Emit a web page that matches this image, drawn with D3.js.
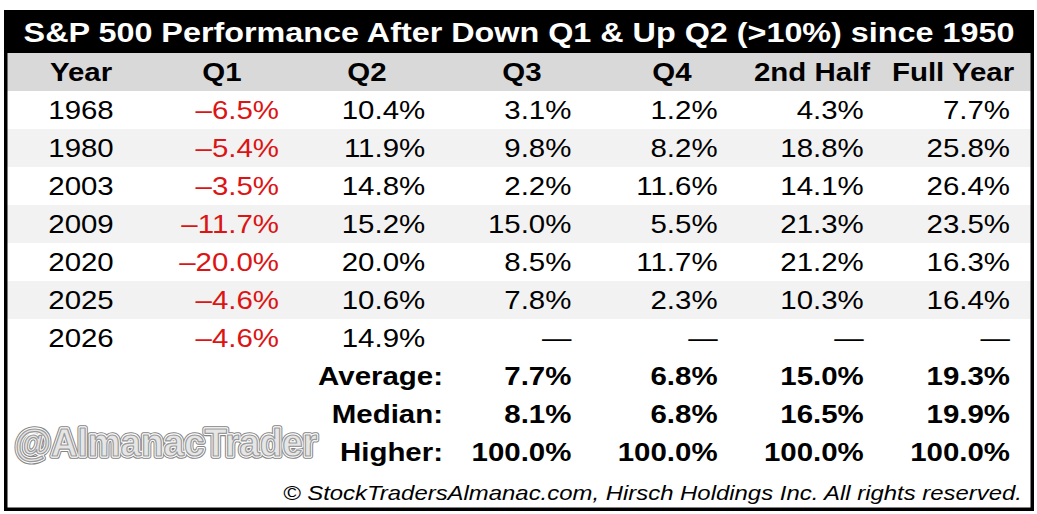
<!DOCTYPE html>
<html>
<head>
<meta charset="utf-8">
<script src="https://cdn.jsdelivr.net/npm/d3@7/dist/d3.min.js"></script>
<style>
  html, body { margin: 0; padding: 0; background: #ffffff; }
  svg { display: block; }
</style>
</head>
<body>
<svg id="chart" width="1037" height="514"></svg>
<script>
// ---------------- DATA ----------------
const title = "S&P 500 Performance After Down Q1 & Up Q2 (>10%) since 1950";
const headers = ["Year", "Q1", "Q2", "Q3", "Q4", "2nd Half", "Full Year"];
const years = ["1968", "1980", "2003", "2009", "2020", "2025", "2026"];
const q1 = [-6.5, -5.4, -3.5, -11.7, -20.0, -4.6, -4.6];
const q2 = [10.4, 11.9, 14.8, 15.2, 20.0, 10.6, 14.9];
const q3 = [3.1, 9.8, 2.2, 15.0, 8.5, 7.8, null];
const q4 = [1.2, 8.2, 11.6, 5.5, 11.7, 2.3, null];
const half2 = [4.3, 18.8, 14.1, 21.3, 21.2, 10.3, null];
const fullYear = [7.7, 25.8, 26.4, 23.5, 16.3, 16.4, null];
const summaryLabels = ["Average:", "Median:", "Higher:"];
const summaryCols = ["Q3", "Q4", "2nd Half", "Full Year"];
const average = [7.7, 6.8, 15.0, 19.3];
const median = [8.1, 6.8, 16.5, 19.9];
const higher = [100.0, 100.0, 100.0, 100.0];
const watermark = "@AlmanacTrader";
const footer = "\u00A9 StockTradersAlmanac.com, Hirsch Holdings Inc. All rights reserved.";

// ---------------- LAYOUT ----------------
const W = 1037, H = 514;
const box = { x0: 4, y0: 10, x1: 1034, y1: 511, stroke: 3.5 };
const titleBottom = 53;
const rowH = 38;
const sx = 1.155;               // horizontal stretch of the original picture
const fontMain = "'Liberation Sans', Arial, Helvetica, sans-serif";
const red = "#dc1414";

const svg = d3.select("#chart");

const valueCols = headers.slice(1);
const series = [q1, q2, q3, q4, half2, fullYear];

// rows: header, data years, summary rows
const rowKeys = ["__header__", ...years, ...summaryLabels];
const y = d3.scaleBand().domain(rowKeys).range([titleBottom, titleBottom + rowH * rowKeys.length]).padding(0);

// right edges of the value columns
const xRight = d3.scalePoint().domain(valueCols).range([279, 1010]);
// header centres
const headerX = d3.scaleOrdinal().domain(headers).range([81, 222, 367, 522, 672, 812, 953]);
const yearX = 81;
const labelRight = 443;

function fmt(v) {
  if (v === null || v === undefined) return "\u2014";
  const s = Math.abs(v).toFixed(1) + "%";
  return v < 0 ? "\u2013" + s : s;
}

function txt(parent, x, yb, str, opt) {
  const g = parent.append("g").attr("transform", `translate(${x},${yb}) scale(${opt.sx || sx},1)`);
  const t = g.append("text")
    .attr("x", 0).attr("y", 0)
    .attr("text-anchor", opt.anchor || "start")
    .attr("font-family", opt.family || fontMain)
    .attr("font-size", opt.size || 25.5)
    .attr("font-weight", opt.weight || "normal")
    .attr("font-style", opt.style || "normal")
    .attr("fill", opt.fill || "#000")
    .text(str);
  return t;
}

// background
svg.append("rect").attr("x", 0).attr("y", 0).attr("width", W).attr("height", H).attr("fill", "#fff");

// title band
svg.append("rect").attr("x", box.x0).attr("y", box.y0).attr("width", box.x1 - box.x0).attr("height", titleBottom - box.y0).attr("fill", "#000");

// header band
svg.append("rect").attr("x", box.x0).attr("y", y("__header__")).attr("width", box.x1 - box.x0).attr("height", y.bandwidth()).attr("fill", "#d9d9d9");

// alternating data rows
svg.append("g").selectAll("rect").data(years.filter((d, i) => i % 2 === 1)).join("rect")
  .attr("x", box.x0).attr("y", d => y(d)).attr("width", box.x1 - box.x0).attr("height", y.bandwidth())
  .attr("fill", "#f2f2f2");

// outer frame
svg.append("rect")
  .attr("x", box.x0 + box.stroke / 2).attr("y", box.y0 + box.stroke / 2)
  .attr("width", box.x1 - box.x0 - box.stroke).attr("height", box.y1 - box.y0 - box.stroke)
  .attr("fill", "none").attr("stroke", "#000").attr("stroke-width", box.stroke);

// title
txt(svg, (box.x0 + box.x1) / 2, 41.5, title, { anchor: "middle", size: 28, weight: "bold", fill: "#fff" });

const base = key => y(key) + y.bandwidth() / 2 + 9;

// header labels
const gh = svg.append("g");
headers.forEach(h => txt(gh, headerX(h), base("__header__"), h, { anchor: "middle", weight: "bold" }));

// data rows
const gd = svg.append("g");
years.forEach((yr, i) => {
  txt(gd, yearX, base(yr), yr, { anchor: "middle" });
  valueCols.forEach((c, j) => {
    const v = series[j][i];
    txt(gd, xRight(c), base(yr), fmt(v), { anchor: "end", fill: (v !== null && v < 0) ? red : "#000" });
  });
});

// summary rows
const gs = svg.append("g");
const summaries = [average, median, higher];
summaryLabels.forEach((lab, i) => {
  txt(gs, labelRight, base(lab), lab, { anchor: "end", weight: "bold" });
  summaryCols.forEach((c, j) => {
    txt(gs, xRight(c), base(lab), fmt(summaries[i][j]), { anchor: "end", weight: "bold" });
  });
});

// watermark (outlined, condensed)
const wm = svg.append("g").attr("transform", "translate(15,456) scale(1,1.12)");
const wmAttrs = sel => sel
  .attr("x", 0).attr("y", 0)
  .attr("font-family", "'Liberation Sans Narrow', 'Liberation Sans', Arial, sans-serif")
  .attr("font-size", 35).attr("font-weight", "bold")
  .attr("textLength", 302).attr("lengthAdjust", "spacingAndGlyphs")
  .attr("stroke-linejoin", "round")
  .text(watermark);
wm.append("text").call(wmAttrs).attr("fill", "none").attr("stroke", "#858585").attr("stroke-width", 5);
wm.append("text").call(wmAttrs).attr("fill", "none").attr("stroke", "#ffffff").attr("stroke-width", 3);
wm.append("text").call(wmAttrs).attr("fill", "#e6e6e6").attr("stroke", "#9a9a9a").attr("stroke-width", 1.1);

// footer
txt(svg, 1022, 499.5, footer, { anchor: "end", size: 20.7, style: "italic" });
</script>
</body>
</html>
